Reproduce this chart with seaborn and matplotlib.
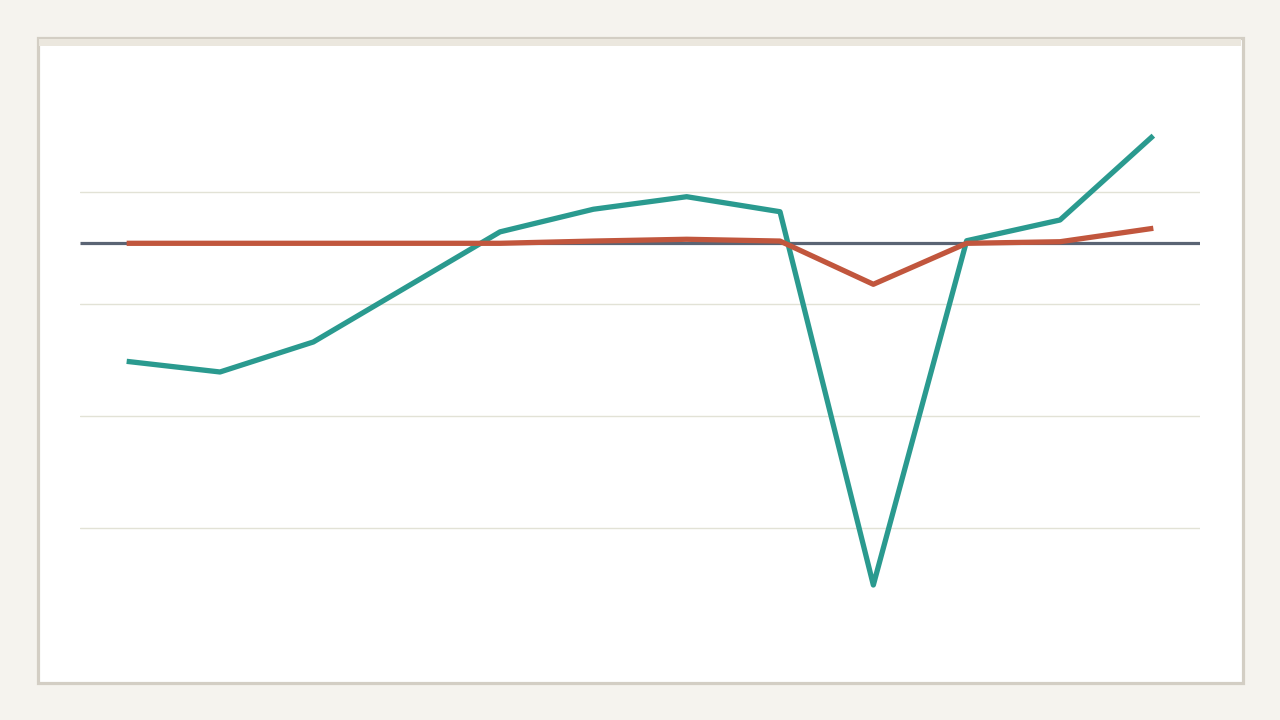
import matplotlib
matplotlib.use("Agg")
import matplotlib.pyplot as plt
from matplotlib.patches import Rectangle
import pandas as pd
import seaborn as sns

# 12 periods, values (reference line = 0)
periods = list(range(12))
teal_vals = [-10.54, -11.49, -8.81, -3.90, 1.02, 3.04, 4.16, 2.82, -30.51, 0.23, 2.08, 9.61]
red_vals = [0.0, 0.0, 0.0, 0.0, 0.0, 0.2, 0.36, 0.2, -3.66, 0.0, 0.14, 1.34]
grid_vals = [4.55, -5.45, -15.45, -25.45]

df = pd.DataFrame({
    "period": periods * 2,
    "value": teal_vals + red_vals,
    "series": ["teal"] * 12 + ["red"] * 12,
})

sns.set_style("white")
fig = plt.figure(figsize=(12.8, 7.2), dpi=100, facecolor="#f5f3ee")

# card behind the chart
W, H = 1280, 720
fig.patches.append(Rectangle((37.5 / W, 1 - 682.5 / H), 1205 / W, 645 / H, transform=fig.transFigure,
                             facecolor="white", edgecolor="#d3cec4", linewidth=2.3, zorder=0))
fig.patches.append(Rectangle((39 / W, 1 - 45.5 / H), 1202 / W, 6.5 / H, transform=fig.transFigure,
                             facecolor="#ebe7de", edgecolor="none", zorder=1))

ax = fig.add_axes([80 / W, 1 - 640 / H, 1120 / W, 560 / H])
ax.set_zorder(5)
ax.patch.set_visible(False)

for g in grid_vals:
    ax.axhline(g, color="#e2e2d6", linewidth=1, zorder=1)
ax.axhline(0, color="#5a6474", linewidth=2.3, zorder=2, solid_capstyle="butt")

sns.lineplot(data=df, x="period", y="value", hue="series", palette={"teal": "#2a9a8f", "red": "#c1563d"},
             linewidth=3.8, legend=False, ax=ax, zorder=3)
for line in ax.get_lines()[-2:]:
    line.set_solid_capstyle("butt")

ax.set_xlim(-0.5, 11.5)
ax.set_ylim(-35.42, 14.58)
ax.set_xlabel("")
ax.set_ylabel("")
ax.set_xticks([])
ax.set_yticks([])
for s in ax.spines.values():
    s.set_visible(False)

fig.savefig("out.png", dpi=100, facecolor=fig.get_facecolor())
